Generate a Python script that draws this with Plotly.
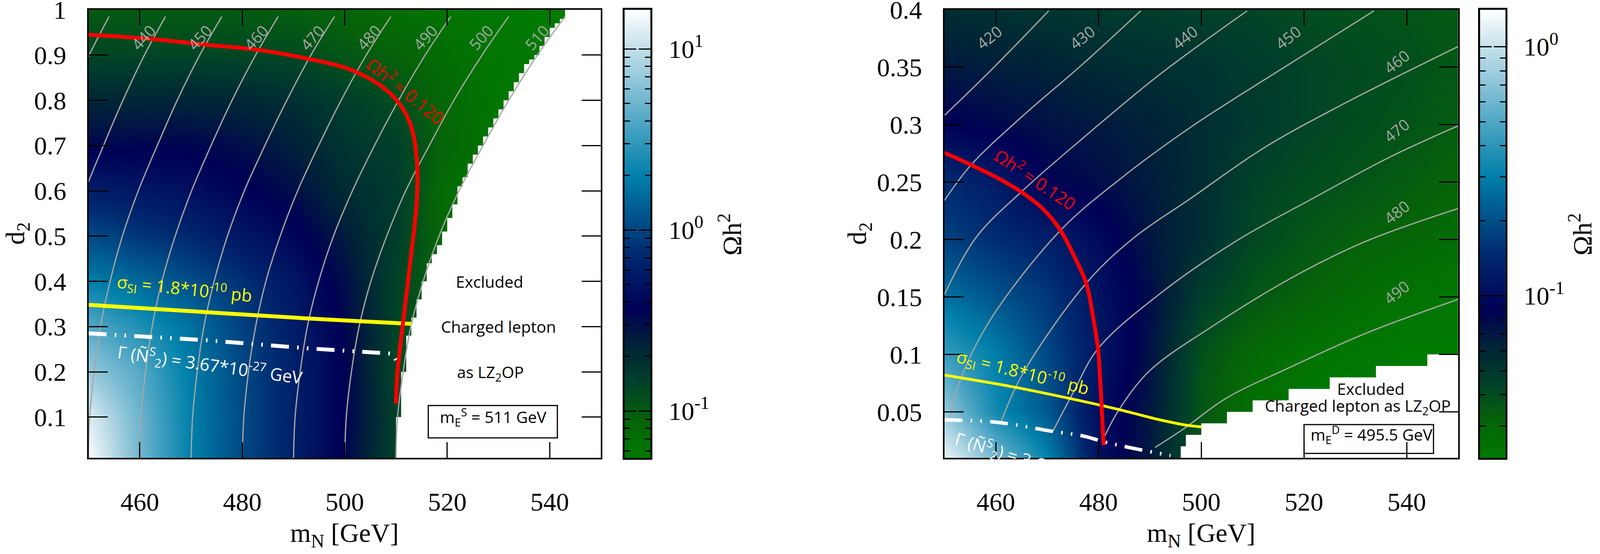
import numpy as np
import plotly.graph_objects as go

# reference page size, everything below is placed as a fraction of it
W = 4388
H = 1417

# colour palette, bottom to top of the colour bar
palette = [
    [0.00, '#007a00'], [0.08, '#066408'], [0.17, '#00402a'], [0.25, '#002338'],
    [0.33, '#000055'], [0.45, '#00286e'], [0.53, '#004f88'], [0.63, '#0080aa'],
    [0.75, '#4fa6c4'], [0.87, '#a4d0e0'], [1.00, '#ffffff'],
]

# ---- left panel: m_E^S = 511 GeV ----
left_mn = [450, 460, 470, 480, 490, 500, 510, 520, 530, 540, 550]
left_d2 = [0.01, 0.1, 0.2, 0.3, 0.4, 0.5, 0.6, 0.7, 0.8, 0.9, 1.0]
# log10(omega h^2)
left_logz = [
    [1.20, 0.72, 0.30, 0.02, -0.20, -0.47, -0.86, -1.10, -1.20, -1.25, -1.26],
    [1.10, 0.70, 0.30, 0.03, -0.20, -0.45, -0.84, -1.10, -1.20, -1.25, -1.26],
    [0.85, 0.62, 0.28, 0.02, -0.20, -0.45, -0.88, -1.10, -1.20, -1.25, -1.26],
    [0.62, 0.42, 0.22, -0.02, -0.22, -0.47, -0.86, -1.10, -1.20, -1.25, -1.26],
    [0.30, 0.18, 0.05, -0.10, -0.28, -0.52, -0.85, -1.10, -1.20, -1.25, -1.26],
    [0.03, -0.07, -0.15, -0.27, -0.40, -0.60, -0.82, -1.12, -1.20, -1.25, -1.26],
    [-0.22, -0.27, -0.33, -0.42, -0.52, -0.70, -0.80, -1.14, -1.22, -1.25, -1.26],
    [-0.48, -0.47, -0.47, -0.52, -0.62, -0.76, -0.83, -1.08, -1.22, -1.25, -1.26],
    [-0.66, -0.66, -0.65, -0.67, -0.72, -0.82, -0.92, -1.10, -1.22, -1.25, -1.26],
    [-0.87, -0.87, -0.87, -0.88, -0.89, -0.97, -1.05, -1.14, -1.22, -1.25, -1.26],
    [-1.00, -1.00, -1.00, -1.00, -1.03, -1.07, -1.14, -1.20, -1.24, -1.26, -1.26],
]
left_cb_range = [-1.259, 1.216]
left_cb_minor = [0.06, 0.07, 0.08, 0.09, 0.2, 0.3, 0.4, 0.5, 0.6, 0.7, 0.8, 0.9,
                 2, 3, 4, 5, 6, 7, 8, 9]

# where the white excluded area starts
left_excl_x = [510, 510, 511, 512, 513, 514, 515, 516, 517, 518, 519, 520, 521, 522,
               523, 524, 525, 526, 527, 528, 529, 530, 531, 532, 533, 534, 535, 536,
               537, 538, 539, 540, 541, 542, 543, 551, 551]
left_excl_y = [0.01, 0.10, 0.20, 0.28, 0.32, 0.36, 0.40, 0.44, 0.46, 0.48, 0.51, 0.54,
               0.57, 0.61, 0.63, 0.66, 0.68, 0.70, 0.72, 0.74, 0.76, 0.78, 0.80, 0.82,
               0.84, 0.86, 0.88, 0.89, 0.90, 0.92, 0.94, 0.96, 0.97, 0.98, 1.00, 1.00, 0.01]

# grey mass contours, all on the same d2 levels
left_cont_d2 = [0.01, 0.1, 0.2, 0.3, 0.4, 0.5, 0.6, 0.7, 0.8, 0.9, 0.985]
left_cont_mn = [
    [430, 430.2, 431, 432.1, 433.8, 436.1, 439, 442.4, 446, 450.1, 454],
    [440, 440.2, 441, 442.2, 444, 446.4, 449.3, 452.9, 456.7, 460.9, 465],
    [450, 450.2, 451.1, 452.3, 454.2, 456.6, 459.7, 463.4, 467.3, 471.7, 476],
    [460, 460.2, 461.1, 462.4, 464.3, 466.9, 470.1, 473.9, 478, 482.6, 487],
    [470, 470.3, 471.2, 472.5, 474.5, 477.1, 480.4, 484.4, 488.7, 493.4, 498],
    [480, 480.3, 481.2, 482.6, 484.6, 487.4, 490.8, 494.9, 499.3, 504.2, 509],
    [490, 490.3, 491.3, 492.7, 494.9, 497.8, 501.5, 505.8, 510.5, 515.7, 520.7],
    [500, 500.3, 501.3, 502.8, 505.1, 508.2, 511.9, 516.5, 521.3, 526.8, 532],
    [510, 510.3, 511.4, 512.9, 515.3, 518.4, 522.3, 527, 532, 537.6, 543],
]
left_label_text = ['440', '450', '460', '470', '480', '490', '500', '510']
left_label_x = [460.7, 471.7, 482.7, 493.7, 504.7, 515.7, 526.6, 537.5]
left_label_y = [0.939] * 8

left_red_x = [450, 462.7, 472.7, 482.7, 492.7, 500.8, 506.8, 510.3, 512.8, 514, 514.1,
              512.8, 511.3, 510.3, 510]
left_red_y = [0.945, 0.935, 0.923, 0.912, 0.892, 0.869, 0.834, 0.798, 0.748, 0.677,
              0.584, 0.443, 0.302, 0.2, 0.13]
left_yellow_x = [450, 472.7, 492.7, 502.8, 513]
left_yellow_y = [0.348, 0.332, 0.318, 0.312, 0.306]
left_white_x = [450, 472.7, 492.7, 508.3, 509.3, 510.3]
left_white_y = [0.285, 0.27, 0.252, 0.241, 0.24, 0.22]

# ---- right panel: m_E^D = 495.5 GeV ----
right_mn = [450, 460, 470, 480, 490, 500, 510, 520, 530, 540, 550]
right_d2 = [0.01, 0.05, 0.1, 0.15, 0.2, 0.25, 0.3, 0.35, 0.4]
right_logz = [
    [0.10, -0.20, -0.50, -0.97, -1.16, -1.44, -1.60, -1.64, -1.65, -1.65, -1.65],
    [-0.12, -0.47, -0.66, -0.98, -1.15, -1.44, -1.58, -1.63, -1.65, -1.65, -1.65],
    [-0.36, -0.52, -0.72, -0.93, -1.13, -1.42, -1.54, -1.60, -1.63, -1.65, -1.65],
    [-0.57, -0.68, -0.78, -0.95, -1.11, -1.33, -1.44, -1.50, -1.56, -1.60, -1.62],
    [-0.75, -0.82, -0.89, -1.00, -1.15, -1.25, -1.38, -1.44, -1.49, -1.52, -1.56],
    [-0.83, -0.91, -1.06, -1.11, -1.17, -1.25, -1.35, -1.40, -1.43, -1.47, -1.51],
    [-1.05, -1.09, -1.13, -1.16, -1.20, -1.25, -1.31, -1.36, -1.40, -1.43, -1.47],
    [-1.16, -1.18, -1.20, -1.24, -1.26, -1.28, -1.32, -1.36, -1.39, -1.41, -1.45],
    [-1.25, -1.27, -1.29, -1.31, -1.33, -1.35, -1.36, -1.40, -1.42, -1.43, -1.45],
]
right_cb_range = [-1.651, 0.148]
right_cb_minor = [0.03, 0.04, 0.05, 0.06, 0.07, 0.08, 0.09,
                  0.2, 0.3, 0.4, 0.5, 0.6, 0.7, 0.8, 0.9]

right_excl_x = [496, 496, 497, 500, 505, 510, 517, 525, 534, 544, 551, 551]
right_excl_y = [0.01, 0.02, 0.03, 0.04, 0.05, 0.06, 0.07, 0.08, 0.09, 0.10, 0.10, 0.01]

right_cont = [
    ([450, 459.2, 470.3], [0.308, 0.348, 0.399]),
    ([450, 455.2, 465.1, 477, 488.2], [0.234, 0.265, 0.307, 0.353, 0.399]),
    ([450, 456.2, 465.1, 476.1, 492, 508.9], [0.152, 0.202, 0.242, 0.285, 0.344, 0.399]),
    ([451, 453.2, 459.2, 472.6, 484, 498, 511.9, 533.6],
     [0.044, 0.079, 0.132, 0.208, 0.252, 0.298, 0.338, 0.399]),
    ([461.1, 465.1, 477.6, 487, 498, 511.9, 526.8, 550],
     [0.042, 0.082, 0.162, 0.202, 0.236, 0.279, 0.316, 0.368]),
    ([471.1, 475.1, 479.9, 492, 506.9, 521.8, 536.8, 550],
     [0.033, 0.067, 0.105, 0.153, 0.199, 0.236, 0.272, 0.299]),
    ([481, 484, 490, 502, 516.9, 531.8, 550],
     [0.027, 0.052, 0.086, 0.124, 0.165, 0.198, 0.227]),
    ([491, 496.5, 504.9, 516.9, 531.8, 550], [0.019, 0.035, 0.062, 0.088, 0.118, 0.148]),
]
right_label_text = ['420', '430', '440', '450', '460', '470', '480', '490']
right_label_x = [458.7, 476.8, 496.8, 516.9, 538, 538, 538, 538]
right_label_y = [0.376, 0.376, 0.376, 0.376, 0.355, 0.295, 0.224, 0.154]

right_red_x = [450, 455.2, 460.6, 465.1, 469.1, 472.6, 475.1, 477.6, 479, 479.9, 480.3,
               480.6, 481]
right_red_y = [0.2755, 0.265, 0.253, 0.241, 0.227, 0.208, 0.187, 0.162, 0.131, 0.105,
               0.079, 0.055, 0.021]
right_yellow_x = [450, 463.1, 475.1, 484, 492, 497, 500]
right_yellow_y = [0.082, 0.072, 0.061, 0.052, 0.043, 0.0385, 0.037]
right_white_x = [450, 460.1, 471.1, 477, 481, 486, 494]
right_white_y = [0.043, 0.041, 0.033, 0.029, 0.024, 0.019, 0.012]

SERIF = 'Liberation Serif'
SANS = 'Open Sans'
GREY = '#a4a8a4'
DASHDOT = '46px,21px,4px,21px,4px,21px'


def xdom(a, b):
    return [a / W, b / W]


def ydom(top, bottom):
    return [1 - bottom / H, 1 - top / H]


fig = go.Figure()


def add_line(x, y, color, width, ax, dash=None, spline=True):
    fig.add_trace(go.Scatter(x=x, y=y, mode='lines', xaxis=ax[0], yaxis=ax[1],
                             line=dict(color=color, width=width, dash=dash,
                                       shape='spline' if spline else 'linear'),
                             hoverinfo='skip', showlegend=False))


def note(text, x, y, color, size, angle=0, ax=('x', 'y')):
    fig.add_annotation(text=text, x=x, y=y, xref=ax[0], yref=ax[1], showarrow=False,
                       xanchor='center', yanchor='middle', textangle=angle,
                       font=dict(family=SANS, size=size, color=color))


def page_title(text, px, py, size=68, angle=0):
    # axis names, placed by page pixel
    fig.add_annotation(text=text, x=px / W, y=1 - py / H, xref='paper', yref='paper',
                       showarrow=False, xanchor='center', yanchor='middle', textangle=angle,
                       font=dict(family=SERIF, size=size, color='black'))


def add_panel(mn, d2, logz, zr, excl_x, excl_y, ax):
    fig.add_trace(go.Heatmap(x=mn, y=d2, z=logz, zmin=zr[0], zmax=zr[1], zsmooth='best',
                             colorscale=palette, showscale=False, xaxis=ax[0], yaxis=ax[1],
                             hoverinfo='skip'))
    # excluded area is white
    fig.add_trace(go.Scatter(x=excl_x, y=excl_y, mode='lines', fill='toself',
                             fillcolor='white', line=dict(color='white', width=0, shape='hv'),
                             xaxis=ax[0], yaxis=ax[1], hoverinfo='skip', showlegend=False))


def add_colorbar(zr, ax):
    levels = np.linspace(zr[0], zr[1], 300)
    fig.add_trace(go.Heatmap(x=[0, 1], y=levels, z=[[v, v] for v in levels], zmin=zr[0],
                             zmax=zr[1], colorscale=palette, showscale=False, zsmooth='best',
                             xaxis=ax[0], yaxis=ax[1], hoverinfo='skip'))


def main_axes(yticks, ytext, yrange):
    xa = dict(range=[450, 550], tickvals=[460, 480, 500, 520, 540], ticks='inside', ticklen=40,
              tickwidth=3, tickcolor='black', showline=True, linecolor='black', linewidth=4,
              mirror='allticks', showgrid=False, zeroline=False, ticklabelstandoff=52,
              ticklabeloverflow='allow', automargin=False,
              tickfont=dict(family=SERIF, size=66, color='black'))
    ya = dict(range=yrange, tickvals=yticks, ticktext=ytext, ticks='inside', ticklen=49,
              tickwidth=3, tickcolor='black', showline=True, linecolor='black', linewidth=4,
              mirror='allticks', showgrid=False, zeroline=False, ticklabelstandoff=40,
              ticklabeloverflow='allow', automargin=False,
              tickfont=dict(family=SERIF, size=66, color='black'))
    return xa, ya


def cbar_axes(zr, major, major_text, minor):
    xa = dict(range=[0, 1], showticklabels=False, ticks='', showline=True, linecolor='black',
              linewidth=5, mirror=True, showgrid=False, zeroline=False, automargin=False)
    ya = dict(range=zr, side='right', tickvals=major, ticktext=major_text, ticks='inside',
              ticklen=30, tickwidth=3, tickcolor='black', showline=True, linecolor='black',
              linewidth=5, mirror='allticks', showgrid=False, zeroline=False,
              ticklabelstandoff=28, ticklabeloverflow='allow', automargin=False,
              tickfont=dict(family=SERIF, size=66, color='black'),
              minor=dict(tickmode='array', tickvals=list(np.log10(minor)), ticks='inside',
                         ticklen=14, tickwidth=3, tickcolor='black', showgrid=False))
    return xa, ya


# left panel
A1 = ('x', 'y')
add_panel(left_mn, left_d2, left_logz, left_cb_range, left_excl_x, left_excl_y, A1)
for c in left_cont_mn:
    add_line(c, left_cont_d2, GREY, 3.2, A1)
add_line(left_white_x, left_white_y, 'white', 10, A1, dash=DASHDOT, spline=False)
add_line(left_yellow_x, left_yellow_y, 'yellow', 10, A1)
add_line(left_red_x, left_red_y, 'red', 10, A1)
add_colorbar(left_cb_range, ('x2', 'y2'))

# right panel
A3 = ('x3', 'y3')
add_panel(right_mn, right_d2, right_logz, right_cb_range, right_excl_x, right_excl_y, A3)
for cx, cy in right_cont:
    add_line(cx, cy, GREY, 3.2, A3)
add_line(right_white_x, right_white_y, 'white', 9, A3, dash=DASHDOT)
add_line(right_yellow_x, right_yellow_y, 'yellow', 7, A3)
add_line(right_red_x, right_red_y, 'red', 10, A3)
add_colorbar(right_cb_range, ('x4', 'y4'))

# contour labels
for t, x, y in zip(left_label_text, left_label_x, left_label_y):
    note(t, x, y, GREY, 40, -48, A1)
for t, x, y in zip(right_label_text, right_label_x, right_label_y):
    note(t, x, y, GREY, 40, -38, A3)

# left panel texts
note('\u03a9h<sup>2</sup> = 0.120', 512, 0.822, 'red', 44, 39, A1)
note('\u03c3<sub>SI</sub> = 1.8*10<sup>-10</sup> pb', 468.7, 0.384, 'yellow', 44, 6, A1)
note('\u0393 (\u00d1<sup>S</sup><sub>2</sub>) = 3.67*10<sup>-27</sup> GeV', 473.7, 0.216,
     'white', 44, 8, A1)
note('Excluded', 528.3, 0.40, 'black', 41, 0, A1)
note('Charged lepton', 530, 0.30, 'black', 41, 0, A1)
note('as LZ<sub>2</sub>OP', 528.4, 0.198, 'black', 41, 0, A1)
note('m<sub>E</sub><sup>S</sup> = 511 GeV', 529, 0.10, 'black', 41, 0, A1)
fig.add_shape(type='rect', xref='x', yref='y', x0=516.3, x1=541.5, y0=0.054, y1=0.1256,
              line=dict(color='black', width=3))

# right panel texts
note('\u03a9h<sup>2</sup> = 0.120', 467.8, 0.253, 'red', 44, 34, A3)
note('\u03c3<sub>SI</sub> = 1.8*10<sup>-10</sup> pb', 465.3, 0.0845, 'yellow', 44, 14, A3)
# this one runs out through the bottom of the frame
note('\u0393 (\u00d1<sup>S</sup><sub>2</sub>) = 3.67*10<sup>-27</sup> GeV', 469.6, -0.017,
     'white', 44, 17, ('x3', 'y3 domain'))
note('Excluded', 533, 0.0702, 'black', 41, 0, A3)
note('Charged lepton as LZ<sub>2</sub>OP', 530.5, 0.0546, 'black', 41, 0, A3)
note('m<sub>E</sub><sup>D</sup> = 495.5 GeV', 533.2, 0.0304, 'black', 41, 0, A3)
fig.add_shape(type='rect', xref='x3', yref='y3', x0=520, x1=545.2, y0=0.0138, y1=0.0389,
              line=dict(color='black', width=3))

# axis names
page_title('m<sub>N</sub> [GeV]', 945, 1367)
page_title('m<sub>N</sub> [GeV]', 3294, 1367)
page_title('d<sub>2</sub>', 46, 597, angle=-90)
page_title('d<sub>2</sub>', 2355, 597, angle=-90)
page_title('\u03a9h<sup>2</sup>', 2003, 600, size=68, angle=-90)
page_title('\u03a9h<sup>2</sup>', 4335, 600, size=68, angle=-90)

xa1, ya1 = main_axes([0.1, 0.2, 0.3, 0.4, 0.5, 0.6, 0.7, 0.8, 0.9, 1.0],
                     ['0.1', '0.2', '0.3', '0.4', '0.5', '0.6', '0.7', '0.8', '0.9', '1'],
                     [0.01, 1.0])
xa3, ya3 = main_axes([0.05, 0.1, 0.15, 0.2, 0.25, 0.3, 0.35, 0.4],
                     ['0.05', '0.1', '0.15', '0.2', '0.25', '0.3', '0.35', '0.4'],
                     [0.01, 0.4])
xa2, ya2 = cbar_axes(left_cb_range, [-1, 0, 1],
                     ['10<sup>-1</sup>', '10<sup>0</sup>', '10<sup>1</sup>'], left_cb_minor)
xa4, ya4 = cbar_axes(right_cb_range, [-1, 0], ['10<sup>-1</sup>', '10<sup>0</sup>'], right_cb_minor)

Ydom = ydom(25, 1171)
# width is left to the page so the figure fills the window
fig.update_layout(
    height=H, margin=dict(l=0, r=0, t=0, b=0, autoexpand=False), paper_bgcolor='white',
    plot_bgcolor='white', showlegend=False,
    xaxis=dict(xa1, domain=xdom(243, 1648), anchor='y'),
    yaxis=dict(ya1, domain=Ydom, anchor='x'),
    xaxis2=dict(xa2, domain=xdom(1713, 1784), anchor='y2'),
    yaxis2=dict(ya2, domain=Ydom, anchor='x2'),
    xaxis3=dict(xa3, domain=xdom(2590, 3999), anchor='y3'),
    yaxis3=dict(ya3, domain=Ydom, anchor='x3'),
    xaxis4=dict(xa4, domain=xdom(4059, 4129), anchor='y4'),
    yaxis4=dict(ya4, domain=Ydom, anchor='x4'),
)

# drop the page's default margin so the top tick labels are not cut
fig.write_html("out.html", config={'displayModeBar': False}, post_script=(
    "document.body.style.margin='0'; document.body.style.overflow='hidden';"
    "Plotly.relayout('{plot_id}', {width: window.innerWidth});"))
